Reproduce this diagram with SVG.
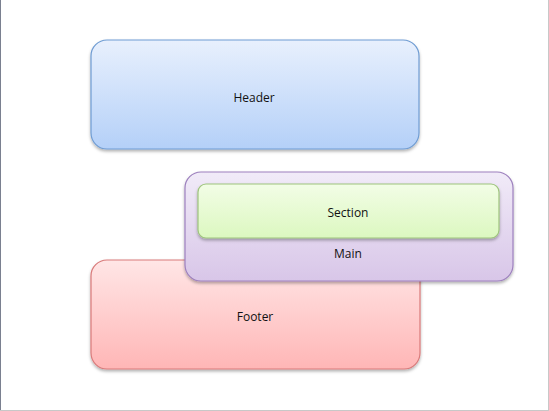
<svg xmlns="http://www.w3.org/2000/svg" width="549" height="411" viewBox="0 0 549 411">
<style>
text{font-family:"Open Sans","Liberation Sans",sans-serif;font-size:12px;fill:#111;text-anchor:middle}
.box{stroke-width:1.2}
</style>
<defs>
<linearGradient id="gB" x1="0" y1="0" x2="0" y2="1"><stop offset="0" stop-color="#e8f0fd"/><stop offset="1" stop-color="#b4d0f8"/></linearGradient>
<linearGradient id="gR" x1="0" y1="0" x2="0" y2="1"><stop offset="0" stop-color="#ffe6e6"/><stop offset="1" stop-color="#ffb6b6"/></linearGradient>
<linearGradient id="gP" x1="0" y1="0" x2="0" y2="1"><stop offset="0" stop-color="#f1ebf8"/><stop offset="1" stop-color="#d8c6e8"/></linearGradient>
<linearGradient id="gG" x1="0" y1="0" x2="0" y2="1"><stop offset="0" stop-color="#f2fde6"/><stop offset="1" stop-color="#dcf8c0"/></linearGradient>
<filter id="sh" x="-5%" y="-5%" width="110%" height="115%"><feDropShadow dx="0" dy="2" stdDeviation="1.5" flood-color="#000" flood-opacity="0.3"/></filter>
</defs>
<rect x="0" y="0" width="549" height="411" fill="#fff"/>
<rect x="0" y="0" width="1" height="411" fill="#7a8090"/>
<rect x="548" y="0" width="1" height="411" fill="#c8c8c8"/>
<rect x="0" y="410" width="549" height="1" fill="#c8c8c8"/>
<g id="connectors"/>
<g id="header">
<rect class="box" x="91" y="40" width="328" height="109" rx="16" fill="url(#gB)" stroke="#6f9cd3" filter="url(#sh)"/>
<text x="254" y="102">Header</text>
</g>
<g id="footer">
<rect class="box" x="91" y="260" width="329" height="109" rx="16" fill="url(#gR)" stroke="#d97a7a" filter="url(#sh)"/>
<text x="255" y="321">Footer</text>
</g>
<g id="main">
<rect class="box" x="185" y="172" width="328" height="109" rx="16" fill="url(#gP)" stroke="#9d80be" filter="url(#sh)"/>
<text x="348" y="258">Main</text>
</g>
<g id="section">
<rect class="box" x="198" y="184" width="301" height="54" rx="8" fill="url(#gG)" stroke="#9ec47d" filter="url(#sh)"/>
<text x="348" y="217">Section</text>
</g>
</svg>
